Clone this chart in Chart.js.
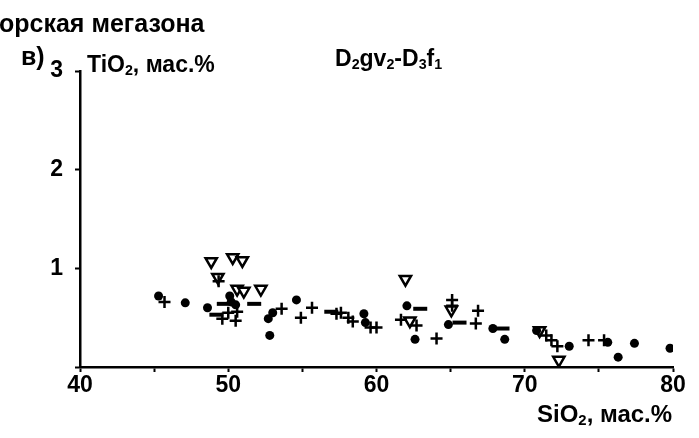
<!DOCTYPE html>
<html>
<head>
<meta charset="utf-8">
<script src="https://cdn.jsdelivr.net/npm/chart.js@4"></script>
<style>
  html, body { margin: 0; padding: 0; background: #fff; }
  #wrap { position: relative; width: 699px; height: 438px; overflow: hidden; background: #fff; }
  #c { position: absolute; left: 0; top: 0; }
  .t { position: absolute; font-family: 'Liberation Sans', Arial, sans-serif; font-weight: bold; color: #000; line-height: 1; white-space: nowrap; }
  .t sub { font-size: 62%; vertical-align: -0.22em; line-height: 0; }
</style>
</head>
<body>
<div id="wrap">
  <canvas id="c" width="699" height="438"></canvas>
  <div class="t" style="left:-1px; top:11px; font-size:25px;">орская мегазона</div>
  <div class="t" style="left:21px; top:44px; font-size:25px;">в)</div>
  <div class="t" style="left:87px; top:53px; font-size:23px;">TiO<sub>2</sub>, мас.%</div>
  <div class="t" style="left:335px; top:47px; font-size:23px;">D<sub>2</sub>gv<sub>2</sub>-D<sub>3</sub>f<sub>1</sub></div>
  <div class="t" style="left:537px; top:402px; font-size:24px;">SiO<sub>2</sub>, мас.%</div>
</div>
<script>
// SiO2 (x, мас.%) and TiO2 (y, мас.%)
const dotsX = [45.3, 47.1, 48.6, 50.1, 50.2, 50.5, 52.7, 53.0, 52.8, 54.6, 59.15, 59.25, 62.05, 62.6, 64.85, 67.85, 68.65, 70.8, 73.0, 75.6, 76.3, 77.4, 79.8];
const dotsY = [0.72, 0.65, 0.60, 0.72, 0.66, 0.63, 0.49, 0.55, 0.32, 0.68, 0.54, 0.45, 0.62, 0.28, 0.43, 0.39, 0.28, 0.37, 0.21, 0.25, 0.10, 0.24, 0.19];

const crossX = [45.7, 49.35, 49.6, 50.0, 50.5, 50.6, 53.6, 54.9, 55.65, 57.3, 57.6, 58.1, 58.4, 59.6, 60.0, 61.65, 62.7, 64.05, 65.1, 65.1, 66.85, 66.7, 71.45, 71.8, 72.2, 74.3, 75.35];
const crossY = [0.66, 0.87, 0.49, 0.55, 0.47, 0.56, 0.59, 0.50, 0.60, 0.54, 0.55, 0.50, 0.46, 0.40, 0.40, 0.48, 0.42, 0.29, 0.68, 0.62, 0.57, 0.44, 0.32, 0.27, 0.21, 0.27, 0.27];

const triX = [48.85, 50.3, 50.95, 49.3, 50.6, 51.05, 52.2, 61.95, 62.25, 65.05, 71.0, 72.3];
const triY = [1.07, 1.11, 1.08, 0.91, 0.79, 0.77, 0.79, 0.89, 0.47, 0.58, 0.37, 0.07];

const dashX = [49.7, 51.75, 49.2, 56.95, 62.95, 65.6, 68.5];
const dashY = [0.64, 0.64, 0.53, 0.56, 0.59, 0.45, 0.39];

const xTickLabels = [40, 50, 60, 70, 80];
const yTickLabels = [1, 2, 3];

const pts = (xs, ys) => xs.map((x, i) => ({ x: x, y: ys[i] }));
const FONT = "'Liberation Sans', Arial, sans-serif";

new Chart(document.getElementById('c'), {
  type: 'scatter',
  data: {
    datasets: [
      { label: 'dots', data: pts(dotsX, dotsY), pointStyle: 'circle', pointRadius: 4.5, backgroundColor: '#000', borderColor: '#000', borderWidth: 0 },
      { label: 'dashes', data: pts(dashX, dashY), pointStyle: 'line', pointRadius: 7, borderColor: '#000', borderWidth: 4 },
      { label: 'crosses', data: pts(crossX, crossY), pointStyle: 'cross', pointRadius: 6, borderColor: '#000', borderWidth: 2.5 },
      { label: 'triangles', data: pts(triX, triY), pointStyle: 'triangle', rotation: 180, pointRadius: 6.5, backgroundColor: '#fff', borderColor: '#000', borderWidth: 2.5 }
    ]
  },
  options: {
    responsive: false,
    animation: false,
    devicePixelRatio: 1,
    layout: { padding: { top: 71, right: 26, left: 0, bottom: 0 } },
    plugins: { legend: { display: false }, tooltip: { enabled: false }, title: { display: false } },
    scales: {
      x: {
        type: 'linear', min: 40, max: 80,
        afterFit: s => { s.height = 71; },
        afterBuildTicks: s => { s.ticks = [40,45,50,55,60,65,70,75,80].map(v => ({ value: v })); },
        ticks: {
          callback: v => (xTickLabels.includes(v) ? String(v) : ''),
          color: '#000', padding: 0, maxRotation: 0, autoSkip: false,
          font: { family: FONT, size: 23, weight: 'bold' }
        },
        grid: { drawOnChartArea: false, drawTicks: true, tickLength: 5, color: '#000', tickColor: '#000', tickWidth: 2 },
        border: { color: '#000', width: 2.5 }
      },
      y: {
        type: 'linear', min: 0, max: 3,
        afterFit: s => { s.width = 80; },
        afterBuildTicks: s => { s.ticks = [0,1,2,3].map(v => ({ value: v })); },
        ticks: {
          callback: v => (yTickLabels.includes(v) ? String(v) : ''),
          color: '#000', padding: 12,
          font: { family: FONT, size: 23, weight: 'bold' }
        },
        grid: { drawOnChartArea: false, drawTicks: true, tickLength: 5, color: '#000', tickColor: '#000', tickWidth: 2 },
        border: { color: '#000', width: 2.5 }
      }
    }
  }
});
</script>
</body>
</html>
